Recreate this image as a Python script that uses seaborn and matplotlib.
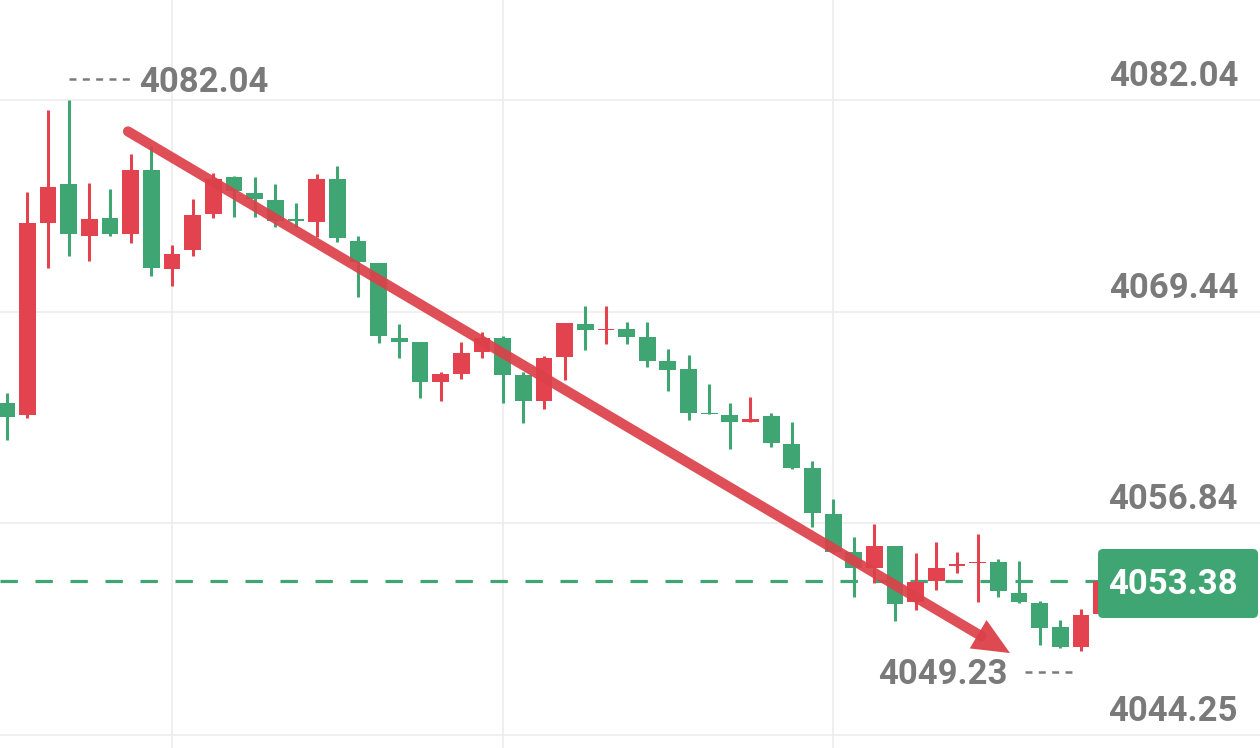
import numpy as np
import pandas as pd
import matplotlib
matplotlib.use("Agg")
import matplotlib.pyplot as plt
import seaborn as sns
from matplotlib.patches import FancyBboxPatch, Polygon
from matplotlib.transforms import IdentityTransform

# ---------------- data ----------------
opens = [4064.00, 4063.29, 4074.74, 4077.04, 4073.96, 4075.00, 4074.06, 4077.87, 4071.98, 4073.11,
         4075.25, 4077.44, 4076.52, 4076.09, 4074.90, 4074.76, 4077.32, 4073.66, 4072.32, 4067.89,
         4067.62, 4065.25, 4065.71, 4067.02, 4067.86, 4065.67, 4064.12, 4066.72, 4068.71, 4068.33,
         4068.41, 4067.95, 4066.50, 4066.01, 4063.37, 4063.29, 4062.86, 4063.25, 4061.55, 4060.12,
         4057.40, 4055.15, 4054.20, 4055.49, 4052.18, 4053.41, 4054.30, 4054.46, 4054.52, 4052.68,
         4052.12, 4050.69, 4049.50, 4051.45]
highs = [4064.60, 4076.58, 4081.44, 4082.04, 4077.08, 4076.76, 4078.83, 4079.30, 4073.41, 4076.13,
         4077.71, 4077.50, 4077.48, 4077.02, 4075.89, 4077.64, 4078.11, 4073.96, 4072.35, 4068.69,
         4067.65, 4065.87, 4067.66, 4068.25, 4067.99, 4065.87, 4066.80, 4068.75, 4069.80, 4069.78,
         4068.81, 4068.81, 4067.22, 4066.86, 4065.12, 4064.02, 4064.34, 4063.39, 4062.89, 4060.57,
         4058.27, 4056.05, 4056.80, 4055.49, 4055.06, 4055.75, 4055.12, 4056.21, 4054.72, 4054.62,
         4052.22, 4051.09, 4051.74, 4053.96]
lows = [4061.80, 4063.09, 4072.02, 4072.77, 4072.47, 4073.96, 4073.55, 4071.58, 4070.97, 4072.77,
        4075.03, 4075.09, 4075.09, 4074.46, 4074.46, 4073.87, 4073.61, 4070.33, 4067.56, 4066.70,
        4064.28, 4064.12, 4065.41, 4066.66, 4064.02, 4062.80, 4063.63, 4065.37, 4067.16, 4067.50,
        4067.52, 4066.16, 4064.74, 4062.99, 4063.33, 4061.25, 4062.86, 4061.37, 4060.08, 4056.61,
        4055.06, 4052.44, 4053.31, 4051.05, 4051.68, 4052.87, 4053.90, 4052.18, 4052.44, 4052.08,
        4049.60, 4049.44, 4049.23, 4051.40]
closes = [4063.17, 4074.74, 4076.88, 4074.05, 4074.94, 4074.05, 4077.87, 4072.02, 4072.86, 4075.21,
          4077.32, 4076.60, 4076.13, 4074.86, 4074.84, 4077.34, 4073.81, 4072.38, 4068.01, 4067.65,
          4065.25, 4065.71, 4066.96, 4067.86, 4065.67, 4064.12, 4066.66, 4068.75, 4068.35, 4068.37,
          4067.91, 4066.50, 4065.97, 4063.39, 4063.33, 4062.89, 4063.05, 4061.61, 4060.15, 4057.44,
          4055.15, 4054.20, 4055.49, 4052.04, 4053.37, 4054.20, 4054.34, 4054.56, 4052.83, 4052.18,
          4050.63, 4049.50, 4051.39, 4053.38]

y_ticks = [4082.04, 4069.44, 4056.84, 4044.25]
y_tick_labels = ["4082.04", "4069.44", "4056.84", "4044.25"]
x_grid_candles = [8, 24, 40]
current_price = 4053.38
current_label = "4053.38"
max_label = "4082.04"
min_label = "4049.23"
# trend arrow annotation (candle index, price)
arrow_start = (5.87, 4080.17)
arrow_tip = (48.56, 4049.12)

# ---------------- style ----------------
RED = "#e2434f"
GREEN = "#3fa673"
GRAY = "#7a7a7a"
GRID = "#ececec"
FS = 25
FW = "bold"

sns.set_theme(style="white")
plt.rcParams["font.family"] = ["Roboto", "DejaVu Sans"]
plt.rcParams["lines.scale_dashes"] = False

df = pd.DataFrame({"open": opens, "high": highs, "low": lows, "close": closes})
df["idx"] = np.arange(len(df))
df["up"] = df["close"] >= df["open"]
df["color"] = np.where(df["up"], RED, GREEN)
df["bottom"] = df[["open", "close"]].min(axis=1)
df["height"] = (df["close"] - df["open"]).abs().clip(lower=0.1)

fig = plt.figure(figsize=(12.6, 7.48), dpi=100)
ax = fig.add_axes([0, 0, 1, 1])
ax.set_xlim(-0.3243, 60.66)
ax.set_ylim(4043.469, 4087.993)
sns.despine(ax=ax, left=True, bottom=True)
ax.set_xticks([])
ax.set_yticks([])

# grid
for v in y_ticks:
    ax.axhline(v, color=GRID, lw=1.2, zorder=0)
for c in x_grid_candles:
    ax.axvline(c, color=GRID, lw=1.2, zorder=0)

# wicks
ax.vlines(df["idx"], df["low"], df["high"], colors=df["color"], lw=2.2, zorder=2)
# bodies
ax.bar(df["idx"], df["height"], bottom=df["bottom"], width=0.81, color=df["color"],
       linewidth=0, zorder=3)

# current price dashed line
ax.axhline(current_price, color=GREEN, lw=2.3, linestyle=(0, (12.5, 12.7)), zorder=1)

# trend arrow
tD = ax.transData
p0 = tD.transform(arrow_start)
p1 = tD.transform(arrow_tip)
d = (p1 - p0) / np.linalg.norm(p1 - p0)
nrm = np.array([-d[1], d[0]])
head_len, head_half = 37.0, 16.5
base = p1 - d * head_len
inv = tD.inverted()
line_end = inv.transform(base + d * 4)
ax.plot([arrow_start[0], line_end[0]], [arrow_start[1], line_end[1]], color="#dc4049",
        lw=7.3, solid_capstyle="round", alpha=0.92, zorder=5)
head = np.array([p1, base + nrm * head_half, base - nrm * head_half])
ax.add_patch(Polygon(inv.transform(head), closed=True, color="#dc4049", alpha=0.95,
                     lw=0, zorder=5))

# right axis labels
for v, lab in zip(y_ticks, y_tick_labels):
    ax.annotate(lab, xy=(1238 / 1260, v), xycoords=("axes fraction", "data"),
                xytext=(0, 14), textcoords="offset pixels", ha="right", va="baseline",
                fontsize=FS, fontweight=FW, color=GRAY, zorder=6)

# max marker
imax = int(np.argmax(highs))
pmax = tD.transform((imax, highs[imax]))
dash_y = pmax[1] + 21
a = inv.transform((pmax[0], dash_y))
b = inv.transform((pmax[0] + 64, dash_y))
ax.plot([a[0], b[0]], [a[1], b[1]], color=GRAY, lw=1.8, linestyle=(0, (5.0, 4.6)), zorder=6)
ax.annotate(max_label, xy=(imax, highs[imax]), xytext=(70, 8), textcoords="offset pixels",
            ha="left", va="baseline", fontsize=FS, fontweight=FW, color=GRAY, zorder=6)

# min marker
imin = int(np.argmin(lows))
pmin = tD.transform((imin, lows[imin]))
dash_y = pmin[1] - 21
a = inv.transform((pmin[0] - 56, dash_y))
b = inv.transform((pmin[0] - 8, dash_y))
ax.plot([a[0], b[0]], [a[1], b[1]], color=GRAY, lw=1.8, linestyle=(0, (5.0, 4.6)), zorder=6)
ax.annotate(min_label, xy=(imin, lows[imin]), xytext=(-73, -33), textcoords="offset pixels",
            ha="right", va="baseline", fontsize=FS, fontweight=FW, color=GRAY, zorder=6)

# current price box
pc = tD.transform((0, current_price))
box_h = 69
box = FancyBboxPatch((1098, pc[1] - box_h / 2 - 2), 160, box_h,
                     boxstyle="round,pad=0,rounding_size=5", transform=IdentityTransform(),
                     facecolor=GREEN, edgecolor="none", zorder=7)
ax.add_artist(box)
ax.annotate(current_label, xy=(1238 / 1260, current_price), xycoords=("axes fraction", "data"),
            xytext=(0, -13), textcoords="offset pixels", ha="right", va="baseline",
            fontsize=FS, fontweight=FW, color="white", zorder=8)

fig.savefig("out.png", dpi=100)
